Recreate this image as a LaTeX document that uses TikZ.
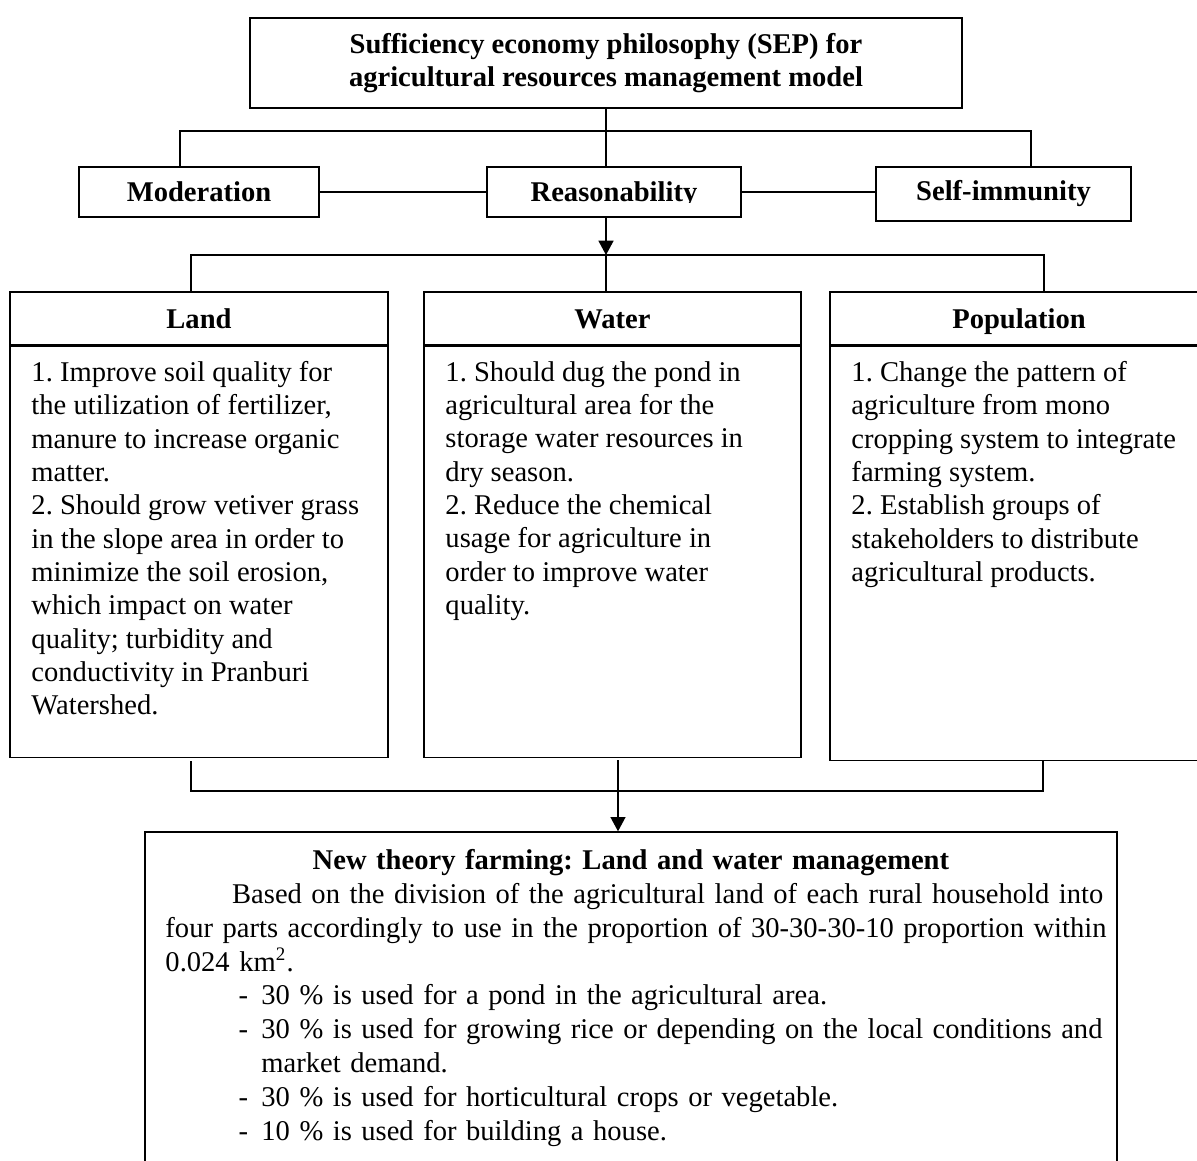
\documentclass[tikz,border=0pt]{standalone}
\usepackage{fontspec}
\setmainfont{Liberation Serif}
\usetikzlibrary{arrows.meta,positioning}
\setlength{\parindent}{0pt}
\frenchspacing

\tikzset{
  box/.style={draw, line width=0.55pt, rectangle, inner sep=0pt, align=center,
    font=\fontsize{12}{14}\selectfont\bfseries},
  hdr/.style={box, text height=8.2pt, text depth=0pt},
  bodytxt/.style={inner sep=0pt, anchor=north west, align=left,
    font=\fontsize{12}{14}\selectfont},
  link/.style={line width=0.55pt},
  arr/.style={line width=0.55pt, -{Triangle[length=6pt,width=6.3pt]}}
}

\begin{document}
\begin{tikzpicture}[x=0.42pt, y=-0.42pt]
  \useasboundingbox (0,0) rectangle (1197,1160);
  \clip (0,0) rectangle (1197,1160);

  % Title box
  \node[box, minimum width=299pt, minimum height=37.8pt] (sep) at (606,63)
    {Sufficiency economy philosophy (SEP) for\\agricultural resources management model};

  % Three principles
  \node[hdr, minimum width=100.8pt, minimum height=21pt] (mod) at (199,192) {Moderation};
  \node[hdr, minimum width=106.7pt, minimum height=21pt] (reas) at (614,192) {\phantom{Reasonability}};
  \begin{scope}
    \clip (reas.north west) rectangle ([yshift=-0.4pt]reas.base east);
    \node[hdr, draw=none] at (reas.center) {Reasonability};
  \end{scope}
  \node[box, minimum width=107.1pt, minimum height=22.7pt] (selfim) at (1003.5,194) {Self-immunity};

  % Upper bracket
  \coordinate (tl) at (180,131);
  \coordinate (tr) at (1031,131);
  \draw[link] (tl |- mod.north) -- (tl) -- (tr) -- (tr |- selfim.north);
  \draw[link] (sep.south) -- (sep.south |- reas.north);
  \draw[link] (mod.east) -- (reas.west);
  \draw[link] (reas.east) -- (reas.east -| selfim.west);

  % Land, water and population panels
  \node[hdr, minimum width=158.8pt, minimum height=22.26pt] (land) at (199,318.5) {Land};
  \node[hdr, minimum width=158.3pt, minimum height=22.26pt] (water) at (612.5,318.5) {Water};
  \node[hdr, minimum width=158.8pt, minimum height=22.26pt] (popul) at (1019,318.5) {Population};
  \node[box, minimum width=158.8pt, minimum height=172.6pt, below=0pt of land] (landbox) {};
  \node[box, minimum width=158.3pt, minimum height=172.6pt, below=0pt of water] (waterbox) {};
  \node[box, minimum width=158.8pt, minimum height=173.9pt, below=0pt of popul] (populbox) {};

  \node[bodytxt] (landtxt) at (31,361) {1. Improve soil quality for\\
    the utilization of fertilizer,\\
    manure to increase organic\\
    matter.\\
    2. Should grow vetiver grass\\
    in the slope area in order to\\
    minimize the soil erosion,\\
    which impact on water\\
    quality; turbidity and\\
    conductivity in Pranburi\\
    Watershed.};
  \node[bodytxt] (watertxt) at (445,361) {1. Should dug the pond in\\
    agricultural area for the\\
    storage water resources in\\
    dry season.\\
    2. Reduce the chemical\\
    usage for agriculture in\\
    order to improve water\\
    quality.};
  \node[bodytxt] (popultxt) at (851,361) {1. Change the pattern of\\
    agriculture from mono\\
    cropping system to integrate\\
    farming system.\\
    2. Establish groups of\\
    stakeholders to distribute\\
    agricultural products.};

  % Middle bracket with arrow
  \coordinate (bl) at (191,255);
  \coordinate (bm) at (sep.south |- bl);
  \coordinate (br) at (1044,255);
  \draw[arr] (sep.south |- reas.south) -- (bm);
  \draw[link] (bl |- land.north) -- (bl) -- (br) -- (br |- popul.north);
  \draw[link] (bm) -- (bm |- water.north);

  % New theory farming box
  \node[box, minimum width=408.2pt, minimum height=154.6pt] (ntf) at (631,1016) {};
  \node[bodytxt, text width=391pt, font=\fontsize{12}{14.2}\selectfont] (ntftxt) at (165,849) {%
    \makebox[391pt]{\bfseries New theory farming: Land and water management}\\
    \makebox[391pt][s]{\hspace*{28pt}Based on the division of the agricultural land of each rural household into}\\
    \makebox[391pt][s]{four parts accordingly to use in the proportion of 30-30-30-10 proportion within}\\
    0.024 km\textsuperscript{2}.\\
    \makebox[40.3pt][l]{\hspace*{30.7pt}-}30 \% is used for a pond in the agricultural area.\\
    \makebox[40.3pt][l]{\hspace*{30.7pt}-}\makebox[350.7pt][s]{30 \% is used for growing rice or depending on the local conditions and}\\
    \hspace*{40.3pt}market demand.\\
    \makebox[40.3pt][l]{\hspace*{30.7pt}-}30 \% is used for horticultural crops or vegetable.\\
    \makebox[40.3pt][l]{\hspace*{30.7pt}-}10 \% is used for building a house.};

  % Lower bracket with arrow
  \coordinate (ll) at (191,761);
  \coordinate (lr) at (1043,791);
  \coordinate (ntfin) at (618,760);
  \draw[link] (ll) -- (ll |- lr) -- (lr) -- (lr |- populbox.south);
  \draw[arr] (ntfin) -- (ntfin |- ntf.north);
\end{tikzpicture}
\end{document}
